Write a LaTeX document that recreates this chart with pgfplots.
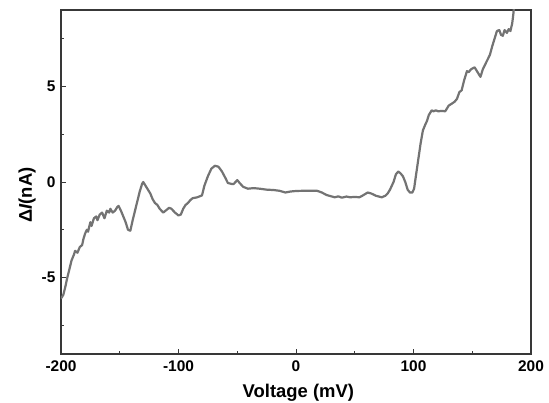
\documentclass[border=0pt]{standalone}
\usepackage{fontspec}
\setmainfont{Liberation Sans}
\usepackage{pgfplots}
\pgfplotsset{compat=1.18}
\definecolor{cLine}{HTML}{737373}
\definecolor{cAxis}{HTML}{383838}
\begin{document}
\begin{tikzpicture}
\begin{axis}[
  scale only axis,
  width  = 470bp,
  height = 344bp,
  xmin = -200, xmax = 200,
  ymin = -9,   ymax = 9,
  xtick = {-200,-100,0,100,200},
  minor xtick = {-150,-50,50,150},
  ytick = {-5,0,5},
  minor ytick = {-7.5,-2.5,2.5,7.5},
  tick pos = left,
  tick align = inside,
  major tick length = 5bp,
  minor tick length = 3bp,
  axis line style = {cAxis, line width=1.4bp},
  tick style = {cAxis, line width=1bp},
  /pgf/number format/assume math mode=true,
  tick label style = {font=\fontsize{15.5}{18}\selectfont\bfseries},
  xticklabel style = {yshift=-3bp},
  yticklabel style = {xshift=-2bp},
  xlabel = {Voltage (mV)},
  ylabel = {Δ\textit{I}(nA)},
  label style = {font=\fontsize{18.5}{22}\selectfont\bfseries},
  xlabel style = {at={(axis description cs:0.505,-0.125)}, anchor=base},
  ylabel style = {at={(axis description cs:-0.072,0.462)}, anchor=center},
]
\addplot[color=cLine, line width=2.2bp, line join=round] coordinates {
(-200,-6.1)(-198,-5.9)(-196,-5.4)(-195,-5.1)(-193,-4.6)(-191,-4.1)(-189,-3.8)
(-188,-3.6)(-186,-3.7)(-184,-3.4)(-182,-3.3)(-181,-3.0)(-179.5,-2.7)(-178,-2.5)
(-177,-2.6)(-175,-2.1)(-174,-2.3)(-172,-1.9)(-170,-1.8)(-169,-2.0)(-167,-1.7)
(-165,-1.6)(-163,-1.9)(-161,-1.5)(-159,-1.6)(-158,-1.4)(-156,-1.6)(-154,-1.5)
(-152,-1.3)(-151,-1.25)(-149,-1.5)(-147,-1.8)(-145,-2.1)(-143,-2.5)(-141,-2.55)
(-139,-2.0)(-137,-1.5)(-135,-1.0)(-133,-0.5)(-131,-0.1)(-130,0.0)(-128,-0.2)
(-126,-0.4)(-124,-0.6)(-122,-0.9)(-120,-1.1)(-118,-1.2)(-116,-1.4)(-113,-1.6)
(-111,-1.5)(-108,-1.35)(-106,-1.4)(-103,-1.6)(-100,-1.75)(-98,-1.7)(-96,-1.4)
(-94,-1.2)(-92,-1.1)(-90,-0.95)(-88,-0.85)(-84,-0.8)(-80,-0.7)(-78,-0.2)
(-75,0.3)(-72,0.7)(-69,0.85)(-66,0.8)(-63,0.55)(-60,0.2)(-58,-0.05)(-55,-0.1)
(-53,-0.1)(-50,0.1)(-48,-0.05)(-45,-0.25)(-41,-0.35)(-36,-0.32)(-31,-0.35)
(-25,-0.4)(-19,-0.42)(-14,-0.46)(-9,-0.55)(-5,-0.5)(0,-0.47)(6,-0.46)(12,-0.46)
(18,-0.46)(22,-0.55)(26,-0.68)(30,-0.75)(33,-0.8)(36,-0.75)(39,-0.82)(43,-0.76)
(46,-0.8)(50,-0.78)(54,-0.8)(57,-0.7)(61,-0.55)(64,-0.6)(68,-0.72)(73,-0.8)
(76,-0.72)(78,-0.6)(80,-0.4)(83,0.0)(85,0.4)(87,0.55)(89,0.45)(91,0.3)(93,0.0)
(95,-0.4)(97,-0.55)(99,-0.55)(100.5,-0.35)(102,0.3)(104,1.15)(106,2.0)(108,2.7)
(110,3.0)(111.5,3.2)(113,3.5)(115.5,3.75)(117,3.7)(119,3.75)(121,3.7)(124,3.72)
(127,3.7)(130,4.0)(132.6,4.1)(135,4.2)(137,4.35)(139,4.7)(141,4.8)(143,5.3)
(145.5,5.8)(147,5.75)(149,5.9)(152,6.0)(154,5.8)(157,5.5)(159,5.9)(161,6.15)
(163,6.4)(165,6.65)(167,7.1)(169,7.5)(171,7.9)(173,7.95)(174.5,7.7)(176,7.65)
(177.5,7.95)(179.5,7.8)(181,8.0)(182.5,7.9)(184,8.3)(185,8.8)(186,9.6)
};
\end{axis}
\pgfresetboundingbox
\path[use as bounding box] ([shift={(-61bp,-48bp)}]current axis.south west)
  rectangle ([shift={(18bp,10bp)}]current axis.north east);
\end{tikzpicture}
\end{document}
